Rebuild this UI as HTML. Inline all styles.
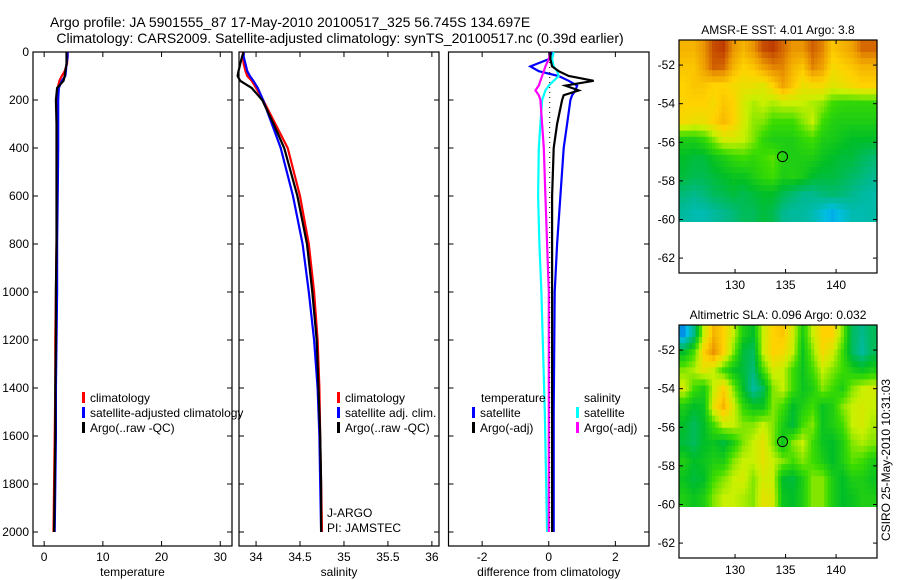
<!DOCTYPE html>
<html><head><meta charset="utf-8"><style>
body{margin:0;background:#fff;}
svg{display:block;font-family:"Liberation Sans",sans-serif;}
</style></head><body>
<svg id="fig" width="900" height="580" viewBox="0 0 900 580">
<rect x="0" y="0" width="900" height="580" fill="#fff"/>
<text x="50" y="27" font-size="14">Argo profile: JA 5901555_87 17-May-2010 20100517_325 56.745S 134.697E</text>
<text x="340" y="43" font-size="14" text-anchor="middle">Climatology: CARS2009. Satellite-adjusted climatology: synTS_20100517.nc (0.39d earlier)</text>
<text transform="translate(890,460) rotate(-90)" font-size="12" text-anchor="middle">CSIRO 25-May-2010 10:31:03</text>
</svg>
<script>
// ---- profile data ----
const depthsP = [0,20,50,80,100,120,150,200,300,400,600,800,1000,1200,1400,1600,1800,2000];
const tempClim = [4.0,4.0,3.9,3.5,3.0,2.6,2.3,2.2,2.2,2.3,2.2,2.1,2.0,1.9,1.9,1.8,1.7,1.6];
const tempSat  = [4.0,4.0,3.8,3.7,3.6,3.0,2.5,2.4,2.4,2.4,2.3,2.2,2.2,2.1,2.0,2.0,1.9,1.8];
const tempArgo = [3.8,3.8,3.8,3.6,3.5,3.3,2.2,2.0,2.1,2.1,2.1,2.1,2.0,2.0,1.9,1.9,1.8,1.7];
const salClim = [33.85,33.85,33.86,33.88,33.9,33.95,34.0,34.08,34.22,34.36,34.5,34.6,34.66,34.7,34.72,34.73,34.74,34.75];
const salSat  = [33.86,33.86,33.88,33.9,33.93,33.97,34.02,34.08,34.18,34.28,34.42,34.53,34.6,34.66,34.7,34.72,34.73,34.74];
const salArgo = [33.86,33.84,33.82,33.8,33.79,33.82,33.95,34.07,34.2,34.32,34.47,34.58,34.64,34.69,34.71,34.73,34.74,34.74];
const depthsD = [0,30,60,80,100,120,140,160,180,200,300,400,600,800,1000,1500,2000];
const diffTempSat  = [0.1,0.0,-0.55,-0.3,0.3,0.6,0.85,0.8,0.7,0.65,0.55,0.45,0.35,0.25,0.18,0.15,0.15];
const diffTempArgo = [0.05,0.05,0.1,0.3,0.6,1.35,0.5,0.9,0.45,0.4,0.25,0.15,0.1,0.1,0.1,0.1,0.1];
const diffSalSat   = [0.15,0.1,0.15,0.25,0.3,0.15,0.0,-0.1,-0.15,-0.2,-0.25,-0.3,-0.32,-0.28,-0.22,-0.12,-0.05];
const diffSalArgo  = [0.05,0.0,-0.1,-0.15,-0.2,-0.25,-0.3,-0.4,-0.3,-0.25,-0.2,-0.15,-0.1,-0.05,0.0,0.0,0.0];
const depthTicks = [0,200,400,600,800,1000,1200,1400,1600,1800,2000];
const tempTicks = [0,10,20,30];
const salTicks = [34,34.5,35,35.5,36];
const diffTicks = [-2,0,2];
// ---- map data (rows north->south, cols west->east) ----
const sstGrid = [
[0.75,0.75,0.8,0.88,0.9,0.8,0.75,0.8,0.88,0.9,0.85,0.8,0.8,0.86,0.82,0.72,0.75,0.78,0.85,0.85],
[0.72,0.72,0.78,0.86,0.85,0.75,0.7,0.72,0.78,0.82,0.82,0.75,0.72,0.82,0.78,0.68,0.7,0.72,0.75,0.75],
[0.7,0.72,0.72,0.7,0.7,0.68,0.66,0.66,0.64,0.7,0.78,0.72,0.66,0.68,0.68,0.64,0.66,0.68,0.7,0.7],
[0.7,0.7,0.7,0.68,0.72,0.7,0.62,0.58,0.6,0.58,0.6,0.6,0.6,0.58,0.56,0.5,0.48,0.48,0.48,0.48],
[0.68,0.66,0.66,0.7,0.74,0.7,0.62,0.56,0.55,0.5,0.5,0.5,0.55,0.6,0.5,0.46,0.45,0.45,0.45,0.45],
[0.45,0.45,0.48,0.55,0.62,0.62,0.6,0.55,0.48,0.45,0.45,0.45,0.48,0.5,0.45,0.44,0.42,0.4,0.4,0.4],
[0.4,0.38,0.38,0.42,0.45,0.48,0.5,0.48,0.5,0.52,0.46,0.45,0.45,0.45,0.42,0.4,0.38,0.38,0.35,0.33],
[0.38,0.36,0.36,0.38,0.4,0.42,0.42,0.45,0.48,0.5,0.45,0.46,0.44,0.4,0.38,0.38,0.36,0.34,0.32,0.3],
[0.32,0.3,0.32,0.35,0.36,0.38,0.36,0.38,0.4,0.4,0.36,0.33,0.3,0.3,0.32,0.33,0.32,0.3,0.28,0.27],
[0.28,0.26,0.26,0.28,0.3,0.32,0.35,0.35,0.38,0.36,0.3,0.28,0.28,0.26,0.22,0.18,0.22,0.26,0.26,0.27]];
const slaGrid = [
[0.15,0.3,0.6,0.75,0.7,0.6,0.45,0.4,0.6,0.7,0.72,0.62,0.45,0.6,0.7,0.7,0.55,0.35,0.3,0.35],
[0.4,0.5,0.7,0.8,0.7,0.55,0.38,0.35,0.6,0.7,0.68,0.6,0.42,0.55,0.68,0.62,0.5,0.35,0.28,0.35],
[0.55,0.58,0.65,0.6,0.5,0.42,0.38,0.32,0.5,0.62,0.6,0.5,0.42,0.5,0.6,0.55,0.5,0.45,0.42,0.45],
[0.62,0.5,0.45,0.6,0.7,0.55,0.4,0.28,0.35,0.55,0.6,0.5,0.42,0.45,0.55,0.5,0.45,0.55,0.6,0.62],
[0.45,0.4,0.42,0.65,0.75,0.62,0.48,0.42,0.42,0.55,0.5,0.4,0.45,0.5,0.42,0.45,0.55,0.6,0.62,0.6],
[0.4,0.35,0.4,0.5,0.6,0.6,0.55,0.55,0.6,0.55,0.45,0.38,0.5,0.55,0.42,0.45,0.5,0.6,0.62,0.58],
[0.38,0.35,0.4,0.42,0.38,0.45,0.55,0.6,0.65,0.55,0.42,0.55,0.6,0.5,0.42,0.4,0.45,0.55,0.58,0.55],
[0.45,0.4,0.42,0.45,0.45,0.55,0.6,0.6,0.65,0.6,0.55,0.5,0.55,0.5,0.45,0.4,0.45,0.52,0.5,0.45],
[0.42,0.38,0.4,0.5,0.55,0.6,0.62,0.55,0.62,0.6,0.4,0.38,0.45,0.55,0.55,0.45,0.4,0.45,0.45,0.42],
[0.45,0.42,0.45,0.55,0.6,0.6,0.58,0.55,0.65,0.62,0.42,0.4,0.45,0.55,0.55,0.45,0.4,0.42,0.45,0.45]];
const lonTicks = [130,135,140];
const latTicks = [-52,-54,-56,-58,-60,-62];
const floatLon = 134.697;
const floatLat = -56.745;

const NS = "http://www.w3.org/2000/svg";
const svg = document.getElementById('fig');
function mk(tag, attrs, parent){ const e=document.createElementNS(NS,tag); for(const k in attrs) e.setAttribute(k,attrs[k]); (parent||svg).appendChild(e); return e; }

const yTop=52, yBot=546, d0=0, pxPerM=0.24;
const yD = d => yTop + (d-d0)*pxPerM;

function panel(name, x0, x1, vmin, vmax, ticks, xlabel, showY){
  const xs = v => x0 + (v-vmin)/(vmax-vmin)*(x1-x0);
  const g = mk('g',{});
  
  
  const r = mk('rect',{x:x0,y:yTop,width:x1-x0,height:yBot-yTop,fill:'none',stroke:'#000','stroke-width':1.2},g);
  
  
  depthTicks.forEach(d=>{
    const y=yD(d);
    mk('line',{x1:x0,x2:x0+5,y1:y,y2:y,stroke:'#000'},g);
    mk('line',{x1:x1-5,x2:x1,y1:y,y2:y,stroke:'#000'},g);
    if(showY){
      const t=mk('text',{x:x0-4,y:y+4,'font-size':12,'text-anchor':'end'},g);
      t.textContent=d;
      
      
    }
  });
  ticks.forEach(v=>{
    const x=xs(v);
    mk('line',{x1:x,x2:x,y1:yBot,y2:yBot-5,stroke:'#000'},g);
    mk('line',{x1:x,x2:x,y1:yTop,y2:yTop+5,stroke:'#000'},g);
    const t=mk('text',{x:x,y:561,'font-size':12,'text-anchor':'middle'},g);
    t.textContent=v;
    
    
  });
  const tl=mk('text',{x:(x0+x1)/2,y:576,'font-size':12,'text-anchor':'middle'},g);
  tl.textContent=xlabel;
  
  
  return {xs,g};
}
function line(p, vals, depths, color, nm, extra){
  const pts = vals.map((v,i)=>p.xs(v).toFixed(1)+','+yD(depths[i]).toFixed(1)).join(' ');
  const l = mk('polyline',Object.assign({points:pts,fill:'none',stroke:color,'stroke-width':2.2},extra||{}),p.g);
  
  
}
function legend(g, x, y, color, label, nm){
  if(color) mk('rect',{x:x,y:y-10,width:3,height:11,fill:color},g);
  const t=mk('text',{x:x+(color?8:0),y:y,'font-size':12},g);
  t.textContent=label;
  
  
}

const p1 = panel('temperature-panel',33,232,-1.9,32,tempTicks,'temperature',true);
line(p1,tempClim,depthsP,'#f00','temp-climatology-line');
line(p1,tempSat,depthsP,'#00f','temp-satellite-line');
line(p1,tempArgo,depthsP,'#000','temp-argo-line');
legend(p1.g,82,402,'#f00','climatology','legend-climatology');
legend(p1.g,82,417,'#00f','satellite-adjusted climatology','legend-satellite-adjusted');
legend(p1.g,82,432,'#000','Argo(..raw -QC)','legend-argo');

const p2 = panel('salinity-panel',239,439,33.806,36.081,salTicks,'salinity',false);
line(p2,salClim,depthsP,'#f00','sal-climatology-line');
line(p2,salSat,depthsP,'#00f','sal-satellite-line');
line(p2,salArgo,depthsP,'#000','sal-argo-line');
legend(p2.g,337,402,'#f00','climatology','legend-sal-climatology');
legend(p2.g,337,417,'#00f','satellite adj. clim.','legend-sal-satellite');
legend(p2.g,337,432,'#000','Argo(..raw -QC)','legend-sal-argo');
legend(p2.g,327,517,null,'J-ARGO','float-program-label');
legend(p2.g,327,532,null,'PI: JAMSTEC','float-pi-label');

const p3 = panel('difference-panel',448.5,649,-3.01,3.01,diffTicks,'difference from climatology',false);
line(p3,diffTempSat,depthsD,'#00f','diff-temp-satellite-line');
line(p3,diffSalSat,depthsD,'#0ff','diff-sal-satellite-line');
line(p3,diffSalArgo,depthsD,'#f0f','diff-sal-argo-line');
line(p3,diffTempArgo,depthsD,'#000','diff-temp-argo-line');
line(p3,diffTempArgo.map(v=>0.03),depthsD,'#000','zero-reference-dotted',{'stroke-width':1,'stroke-dasharray':'1 4'});
legend(p3.g,481,402,null,'temperature','legend-diff-temperature-heading');
legend(p3.g,472,417,'#00f','satellite','legend-diff-temp-satellite');
legend(p3.g,472,432,'#000','Argo(-adj)','legend-diff-temp-argo');
legend(p3.g,584,402,null,'salinity','legend-diff-salinity-heading');
legend(p3.g,576,417,'#0ff','satellite','legend-diff-sal-satellite');
legend(p3.g,576,432,'#f0f','Argo(-adj)','legend-diff-sal-argo');

// ---- maps ----
const stops=[[0.1,[0,100,230]],[0.2,[0,190,230]],[0.3,[0,185,140]],[0.4,[0,190,40]],[0.5,[60,220,0]],[0.6,[200,240,0]],[0.7,[255,210,0]],[0.8,[235,150,0]],[0.9,[190,60,0]]];
function cmap(v){
  if(v<=stops[0][0]) return 'rgb('+stops[0][1]+')';
  for(let i=1;i<stops.length;i++){
    if(v<=stops[i][0]){
      const a=stops[i-1],b=stops[i],t=(v-a[0])/(b[0]-a[0]);
      return 'rgb('+a[1].map((c,k)=>Math.round(c+(b[1][k]-c)*t)).join(',')+')';
    }
  }
  return 'rgb('+stops[stops.length-1][1]+')';
}
// bilinear sample of a grid at fractional (row, col) centre coordinates
function sample(grid, fr, fc){
  const R=grid.length, C=grid[0].length;
  fr=Math.max(0,Math.min(R-1,fr)); fc=Math.max(0,Math.min(C-1,fc));
  const r0=Math.floor(fr), c0=Math.floor(fc), r1=Math.min(R-1,r0+1), c1=Math.min(C-1,c0+1);
  const tr=fr-r0, tc=fc-c0;
  const top=grid[r0][c0]*(1-tc)+grid[r0][c1]*tc, bot=grid[r1][c0]*(1-tc)+grid[r1][c1]*tc;
  return top*(1-tr)+bot*tr;
}
function map(name, top, title, grid){
  const x0=679,x1=877,lonMin=124.45,lonMax=144.05,latTop=-50.7,pxLat=19.3,bottom=top+233;
  const xL=lon=>x0+(lon-lonMin)/(lonMax-lonMin)*(x1-x0);
  const yL=lat=>top+(latTop-lat)*pxLat;
  const g=mk('g',{});
  
  
  const rows=grid.length, cols=grid[0].length, latBot=-60.1, up=3;
  const R=rows*up, C=cols*up;
  const cw=(lonMax-lonMin)/C, ch=(latTop-latBot)/R;
  for(let r=0;r<R;r++) for(let c=0;c<C;c++){
    const v=sample(grid,(r+0.5)/up-0.5,(c+0.5)/up-0.5);
    const cx=xL(lonMin+c*cw), cy=yL(latTop-r*ch);
    const cell=mk('rect',{x:cx.toFixed(1),y:cy.toFixed(1),width:(xL(lonMin+(c+1)*cw)-cx+0.6).toFixed(1),height:(yL(latTop-(r+1)*ch)-cy+0.6).toFixed(1),fill:cmap(v)},g);
    
    
  }
  const fr=mk('rect',{x:x0,y:top,width:x1-x0,height:bottom-top,fill:'none',stroke:'#000','stroke-width':1.2},g);
  
  
  latTicks.forEach(l=>{
    const y=yL(l);
    mk('line',{x1:x0,x2:x0+4,y1:y,y2:y,stroke:'#000'},g);
    mk('line',{x1:x1-4,x2:x1,y1:y,y2:y,stroke:'#000'},g);
    const t=mk('text',{x:x0-4,y:y+4,'font-size':12,'text-anchor':'end'},g);
    t.textContent=l;
    
    
  });
  lonTicks.forEach(l=>{
    const x=xL(l);
    mk('line',{x1:x,x2:x,y1:bottom,y2:bottom-4,stroke:'#000'},g);
    mk('line',{x1:x,x2:x,y1:top,y2:top+4,stroke:'#000'},g);
    const t=mk('text',{x:x,y:bottom+16,'font-size':12,'text-anchor':'middle'},g);
    t.textContent=l;
    
    
  });
  const tt=mk('text',{x:(x0+x1)/2,y:top-6,'font-size':12,'text-anchor':'middle'},g);
  tt.textContent=title;
  
  
  const c=mk('circle',{cx:xL(floatLon),cy:yL(floatLat),r:5,fill:'none',stroke:'#000','stroke-width':1},g);
  
  
}
map('sst-map',40,'AMSR-E SST: 4.01 Argo: 3.8',sstGrid);
map('sla-map',325,'Altimetric SLA: 0.096 Argo: 0.032',slaGrid);
</script>
</body></html>
